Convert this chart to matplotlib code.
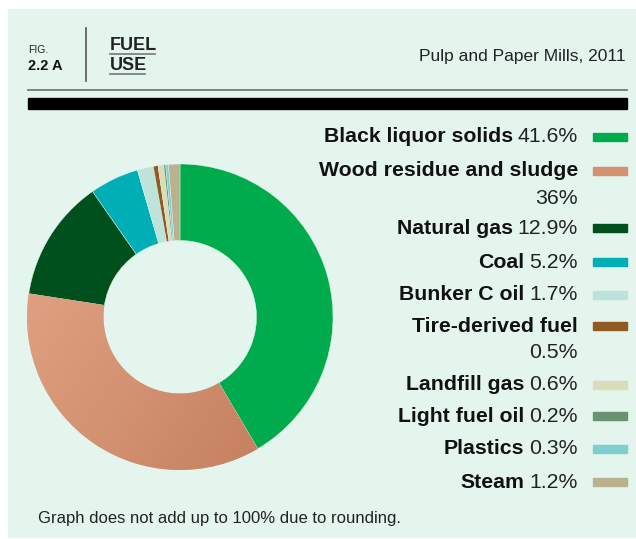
import matplotlib
matplotlib.use('Agg')
import matplotlib.pyplot as plt
import numpy as np
from matplotlib.patches import Rectangle
from matplotlib.lines import Line2D
from matplotlib.colors import LinearSegmentedColormap

fuels = ['Black liquor solids', 'Wood residue and sludge', 'Natural gas', 'Coal',
         'Bunker C oil', 'Tire-derived fuel', 'Landfill gas', 'Light fuel oil',
         'Plastics', 'Steam']
shares = [41.6, 36, 12.9, 5.2, 1.7, 0.5, 0.6, 0.2, 0.3, 1.2]
colors = ['#00ab4e', '#d39272', '#00501e', '#00aeb5', '#bde3db',
          '#915a20', '#d9dcb7', '#67936f', '#7fcfd0', '#bab28d']
# legend rows: (y of name line, y of value line or None when on same line)
rows = [(137, None), (171, 198), (228, None), (262, None), (295, None),
        (326, 352), (385, None), (416, None), (449, None), (482, None)]

W, H = 636, 539
BG = '#e4f5ee'
plt.rcParams['font.family'] = ['Liberation Sans', 'DejaVu Sans']

fig = plt.figure(figsize=(W / 100, H / 100), dpi=100)
fig.patch.set_facecolor('white')


def fx(x):
    return x / W


def fy(y):
    return 1 - y / H


bg = Rectangle((fx(8), fy(537)), fx(628), 528 / H,
               transform=fig.transFigure, color=BG, zorder=-5)
fig.add_artist(bg)

# header
fig.text(fx(28), fy(50), 'FIG.', fontsize=7.5, color='#222', va='center')
fig.text(fx(28), fy(66), '2.2 A', fontsize=10.5, weight='bold', color='#111', va='center')
fig.add_artist(Line2D([fx(86), fx(86)], [fy(28), fy(81)], color='#555', lw=1.2))
fig.text(fx(110), fy(45.5), 'FUEL', fontsize=13, weight='bold', color='#222', va='center')
fig.text(fx(110), fy(65), 'USE', fontsize=13, weight='bold', color='#222', va='center')
fig.add_artist(Line2D([fx(110), fx(155)], [fy(54), fy(54)], color='#777', lw=1.2))
fig.add_artist(Line2D([fx(110), fx(145)], [fy(73.5), fy(73.5)], color='#777', lw=1.2))
fig.text(fx(626), fy(56), 'Pulp and Paper Mills, 2011', fontsize=12.5, color='#222',
         ha='right', va='center')
fig.add_artist(Line2D([fx(28), fx(627)], [fy(89.5), fy(89.5)], color='#777', lw=1.3))
fig.add_artist(Rectangle((fx(28), fy(109)), fx(599), 11 / H,
                         transform=fig.transFigure, color='black'))

# donut
ax = fig.add_axes([fx(27), fy(470), fx(306), 306 / H])
ax.set_zorder(2)
wedges, _ = ax.pie(shares, colors=colors, startangle=90, counterclock=False, radius=1,
                   wedgeprops=dict(width=0.5, linewidth=0.3, edgecolor=BG))

# wood slice gets a light-to-dark shading instead of a flat fill
wood = LinearSegmentedColormap.from_list('wood', ['#e4a888', '#d39272', '#bf7857'])
gx, gy = np.meshgrid(np.linspace(0, 1, 200), np.linspace(0, 1, 200))
shade = ax.imshow(0.6 * gx + 0.4 * gy, cmap=wood, extent=(-1, 1, -1, 1),
                  origin='upper', zorder=wedges[1].get_zorder() + 0.1)
shade.set_clip_path(wedges[1])

ax.set_xlim(-1, 1)
ax.set_ylim(-1, 1)
ax.set_aspect('equal')
ax.axis('off')

# legend
renderer = fig.canvas.get_renderer()
x_right = 578
fs = 15.3
for name, share, color, (y1, y2) in zip(fuels, shares, colors, rows):
    value = f'{share:g}%'
    fig.add_artist(Rectangle((fx(593), fy(y1 + 4)), fx(34), 8 / H,
                             transform=fig.transFigure, color=color))
    if y2 is None:
        t = fig.text(fx(x_right), fy(y1), value, fontsize=fs, color='#222',
                     ha='right', va='center')
        bb = t.get_window_extent(renderer)
        fig.text(bb.x0 / W - fx(5), fy(y1), name, fontsize=fs, weight='bold',
                 color='#111', ha='right', va='center')
    else:
        fig.text(fx(x_right), fy(y1), name, fontsize=fs, weight='bold',
                 color='#111', ha='right', va='center')
        fig.text(fx(x_right), fy(y2), value, fontsize=fs, color='#222',
                 ha='right', va='center')

fig.text(fx(38), fy(518), 'Graph does not add up to 100% due to rounding.',
         fontsize=12, color='#222', va='center')

fig.savefig('out.png', dpi=100, facecolor=fig.get_facecolor())
